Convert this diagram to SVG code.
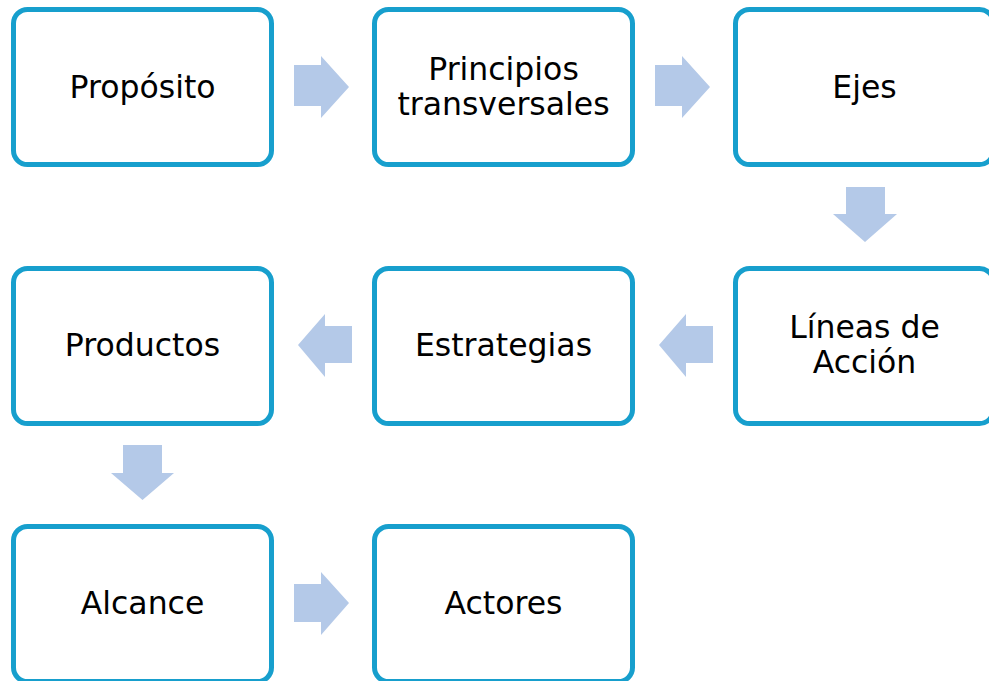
<svg xmlns="http://www.w3.org/2000/svg" width="989" height="681" viewBox="0 0 989 681">
<style>
.box{fill:#fff;stroke:#179FCD;stroke-width:5}
.t{font-family:"DejaVu Sans",Verdana,sans-serif;font-size:31.5px;fill:#000;text-anchor:middle}
.arr{fill:#B4C9E8}
</style>
<rect width="989" height="681" fill="#fff"/>
<g id="connectors">
<polygon class="arr" points="294,65 321,65 321,56 349,87 321,118 321,106 294,106"/>
<polygon class="arr" points="655,65 682,65 682,56 710,87 682,118 682,106 655,106"/>
<polygon class="arr" points="846,187 885,187 885,214 897,214 865,242 833,214 846,214"/>
<polygon class="arr" points="713,326 686,326 686,314 659,345 686,377 686,363 713,363"/>
<polygon class="arr" points="352,326 325,326 325,314 298,345 325,377 325,363 352,363"/>
<polygon class="arr" points="123,445 162,445 162,473 174,473 142.5,500 111,473 123,473"/>
<polygon class="arr" points="294,584 321,584 321,572 349,603 321,635 321,622 294,622"/>
</g>
<g id="n1"><rect class="box" x="13.5" y="9.5" width="258" height="155" rx="14"/><text class="t" x="142.5" y="98">Propósito</text></g>
<g id="n2"><rect class="box" x="374.5" y="9.5" width="258" height="155" rx="14"/><text class="t" x="503.5" y="80">Principios</text><text class="t" x="503.5" y="115">transversales</text></g>
<g id="n3"><rect class="box" x="735.5" y="9.5" width="258" height="155" rx="14"/><text class="t" x="864.5" y="98">Ejes</text></g>
<g id="n4"><rect class="box" x="735.5" y="268.5" width="258" height="155" rx="14"/><text class="t" x="864.5" y="338">Líneas de</text><text class="t" x="864.5" y="373">Acción</text></g>
<g id="n5"><rect class="box" x="374.5" y="268.5" width="258" height="155" rx="14"/><text class="t" x="503.5" y="356">Estrategias</text></g>
<g id="n6"><rect class="box" x="13.5" y="268.5" width="258" height="155" rx="14"/><text class="t" x="142.5" y="356">Productos</text></g>
<g id="n7"><rect class="box" x="13.5" y="526.5" width="258" height="155" rx="14"/><text class="t" x="142.5" y="614">Alcance</text></g>
<g id="n8"><rect class="box" x="374.5" y="526.5" width="258" height="155" rx="14"/><text class="t" x="503.5" y="614">Actores</text></g>
</svg>
